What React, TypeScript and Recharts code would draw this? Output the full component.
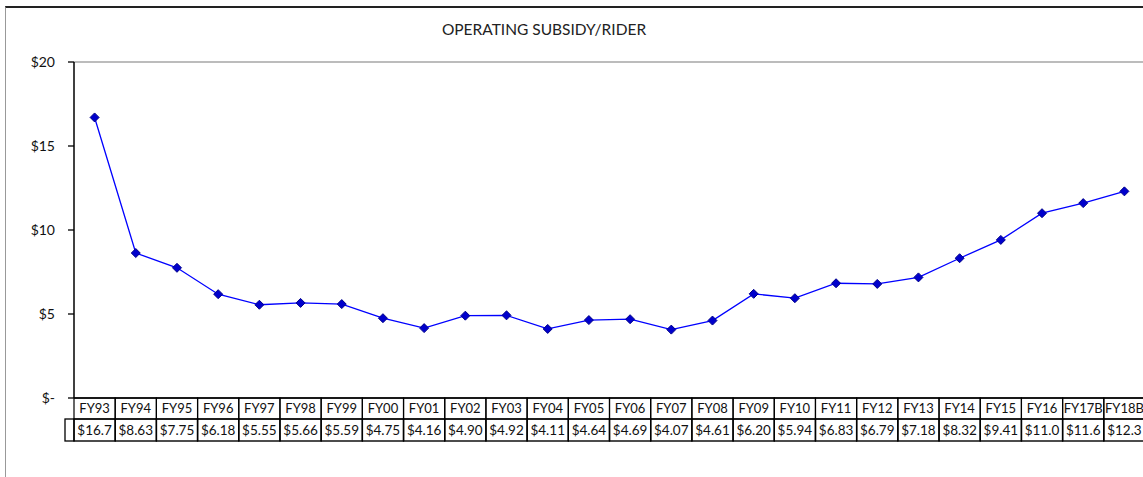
import React from 'react';
import { LineChart, Line, XAxis, YAxis, ReferenceLine } from 'recharts';

const categories = [
  'FY93', 'FY94', 'FY95', 'FY96', 'FY97', 'FY98', 'FY99', 'FY00', 'FY01', 'FY02',
  'FY03', 'FY04', 'FY05', 'FY06', 'FY07', 'FY08', 'FY09', 'FY10', 'FY11', 'FY12',
  'FY13', 'FY14', 'FY15', 'FY16', 'FY17B', 'FY18B',
];

const subsidyPerRider = [
  16.7, 8.63, 7.75, 6.18, 5.55, 5.66, 5.59, 4.75, 4.16, 4.9,
  4.92, 4.11, 4.64, 4.69, 4.07, 4.61, 6.2, 5.94, 6.83, 6.79,
  7.18, 8.32, 9.41, 11.0, 11.6, 12.3,
];

const yTicks = [0, 5, 10, 15, 20];

const data = categories.map((name, i) => ({ name, value: subsidyPerRider[i] }));

const FONT = 'Lato, "Open Sans", sans-serif';
const CHART_W = 1146;
const CHART_H = 477;
const MARGIN = { top: 62, right: 1, bottom: 0, left: 0 };
const Y_AXIS_W = 74;
const X_AXIS_H = 79;
const PLOT_W = CHART_W - MARGIN.left - MARGIN.right - Y_AXIS_W;
const ROW1_H = 21;
const ROW2_H = 22;

const money = (v: number) => (v === 0 ? '$-' : `$${v}`);
const tableLabel = (v: number) => ('$' + v.toFixed(2)).slice(0, 5);

const DataTableTick = (props: any) => {
  const { x, y, payload, index } = props;
  const colW = PLOT_W / categories.length;
  const left = x - colW / 2;
  const value = subsidyPerRider[payload.index ?? index];
  return (
    <g>
      {index === 0 && (
        <rect x={left - 9} y={y + ROW1_H} width={9} height={ROW2_H} fill="none" stroke="#000" strokeWidth={1.3} />
      )}
      <rect x={left} y={y} width={colW} height={ROW1_H} fill="none" stroke="#000" strokeWidth={1.2} />
      <rect x={left} y={y + ROW1_H} width={colW} height={ROW2_H} fill="none" stroke="#000" strokeWidth={1.4} />
      <text x={x} y={y + 15} textAnchor="middle" fontFamily={FONT} fontSize={13} fill="#111">
        {payload.value}
      </text>
      <text x={x} y={y + ROW1_H + 16} textAnchor="middle" fontFamily={FONT} fontSize={13.5} fill="#111">
        {tableLabel(value)}
      </text>
    </g>
  );
};

const DiamondDot = (props: any) => {
  const { cx, cy } = props;
  if (cx == null || cy == null) return null;
  const r = 4.5;
  return (
    <polygon
      points={`${cx},${cy - r} ${cx + r},${cy} ${cx},${cy + r} ${cx - r},${cy}`}
      fill="#0000cc"
      stroke="#00008b"
      strokeWidth={1}
    />
  );
};

export default function App() {
  return (
    <div style={{ position: 'absolute', left: 0, top: 0, width: 1143, height: 477, overflow: 'hidden', background: '#fff' }}>
      <div
        style={{
          position: 'absolute',
          left: 5,
          top: 6,
          width: 1200,
          height: 500,
          borderTop: '2px solid #222',
          borderLeft: '1px solid #999',
        }}
      />
      <div
        style={{
          position: 'absolute',
          left: 0,
          width: 1088,
          top: 20,
          textAlign: 'center',
          fontFamily: FONT,
          fontSize: 15.5,
          color: '#222',
        }}
      >
        OPERATING SUBSIDY/RIDER
      </div>
      <div style={{ position: 'absolute', left: 0, top: 0 }}>
        <LineChart width={CHART_W} height={CHART_H} data={data} margin={MARGIN}>
          <ReferenceLine y={20} stroke="#a6a6a6" strokeWidth={1.5} />
          <XAxis
            dataKey="name"
            scale="band"
            interval={0}
            height={X_AXIS_H}
            axisLine={{ stroke: '#000', strokeWidth: 1.5 }}
            tickLine={false}
            tickSize={0}
            tickMargin={0}
            tick={<DataTableTick />}
          />
          <YAxis
            domain={[0, 20]}
            ticks={yTicks}
            width={Y_AXIS_W}
            tickFormatter={money}
            axisLine={{ stroke: '#000', strokeWidth: 1.5 }}
            tickLine={{ stroke: '#000', strokeWidth: 1.3 }}
            tickSize={6}
            tickMargin={13}
            tick={{ fontFamily: FONT, fontSize: 14, fill: '#111' }}
          />
          <Line
            type="linear"
            dataKey="value"
            stroke="#0000ff"
            strokeWidth={1.3}
            dot={<DiamondDot />}
            activeDot={false}
            isAnimationActive={false}
          />
        </LineChart>
      </div>
    </div>
  );
}
